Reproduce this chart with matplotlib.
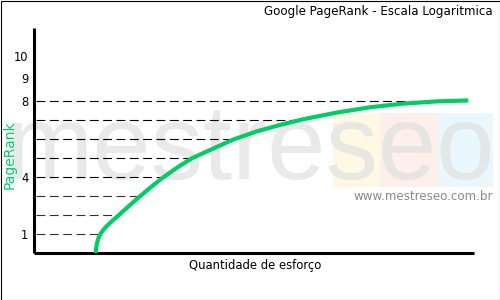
import numpy as np
import matplotlib
matplotlib.use("Agg")
import matplotlib.pyplot as plt
from matplotlib.patches import Rectangle

# ---- data ----
effort = [61.7, 62.0, 62.6, 63.6, 65.0, 67.0, 69.5, 72.5, 76.0, 80.0, 84.3, 92.7, 104.3,
          116.0, 127.7, 142.7, 157.7, 179.3, 199.3, 222.7, 246.0, 269.3,
          302.7, 336.0, 369.0, 402.7, 434.3]
pagerank = [0.0, 0.17, 0.40, 0.64, 0.86, 1.05, 1.23, 1.40, 1.58, 1.77, 1.97, 2.37, 2.91,
            3.43, 3.92, 4.48, 4.98, 5.50, 5.97, 6.40, 6.74, 7.04,
            7.39, 7.67, 7.86, 7.98, 8.03]
levels = [1, 2, 3, 4, 5, 6, 7, 8]
level_colors = ["#333333", "#333333", "#333333", "black", "black", "black", "black", "black"]
tick_values = [1, 4, 8, 9.2, 10.35]
tick_labels = ["1", "4", "8", "9", "10"]

title = "Google PageRank - Escala Logaritmica"
xlabel = "Quantidade de esforço"
ylabel = "PageRank"
watermark = "mestreseo"
site = "www.mestreseo.com.br"

GREEN = "#00cc66"

fig = plt.figure(figsize=(5, 3), dpi=100)
fig.patch.set_facecolor("white")

# background layer (pixel coordinates)
bg = fig.add_axes([0, 0, 1, 1], zorder=0)
bg.set_xlim(0, 500)
bg.set_ylim(300, 0)
bg.axis("off")
for x0, w, c in [(333, 47, "#fff8e4"), (380, 58, "#fdefea"), (438, 55, "#eaf8fd")]:
    bg.add_patch(Rectangle((x0, 113), w, 74, facecolor=c, edgecolor="none"))
bg.text(5, 179, watermark, fontsize=75.5, family="Liberation Sans",
        color="#e0e0e0", alpha=0.7, ha="left", va="baseline")
bg.text(493, 196, site, fontsize=8.6, color="#8a8a8a", ha="right", va="center")
bg.text(493, 11, title, fontsize=8.6, color="black", ha="right", va="center")
bg.add_patch(Rectangle((0.5, 0.5), 499, 299, fill=False, edgecolor="black", lw=0.8))

# main axes
ax = fig.add_axes([34 / 500, 47 / 300, 440 / 500, 225 / 300], zorder=1)
ax.set_facecolor("none")
ax.set_xlim(0, 440)
ax.set_ylim(0, 225 / 19)
for s in ["top", "right"]:
    ax.spines[s].set_visible(False)
for s in ["left", "bottom"]:
    ax.spines[s].set_linewidth(2.2)
    ax.spines[s].set_color("black")
    ax.spines[s].set_capstyle("butt")

# dashed guide lines ending at the curve
xr = np.interp(np.array(levels) - 0.05, pagerank, effort)
for lv, xe, c in zip(levels, xr, level_colors):
    ax.plot([1.5, xe], [lv, lv], color=c, lw=0.8, dashes=(8, 4), zorder=2)

ax.plot(effort, pagerank, color=GREEN, lw=3.0, solid_capstyle="butt",
        solid_joinstyle="round", zorder=3)

ax.set_xticks([])
ax.set_yticks(tick_values)
ax.set_yticklabels(tick_labels, fontsize=8.3)
ax.tick_params(axis="y", length=0, pad=4)

ax.set_xlabel(xlabel, fontsize=8.4)
ax.xaxis.set_label_coords((255 - 34) / 440, (253 - 266) / 225)
ax.xaxis.label.set_va("center")
ax.set_ylabel(ylabel, fontsize=10, color=GREEN)
ax.yaxis.set_label_coords((10 - 34) / 440, (253 - 155) / 225)
ax.yaxis.label.set_va("center")

fig.savefig("out.png", dpi=100)
